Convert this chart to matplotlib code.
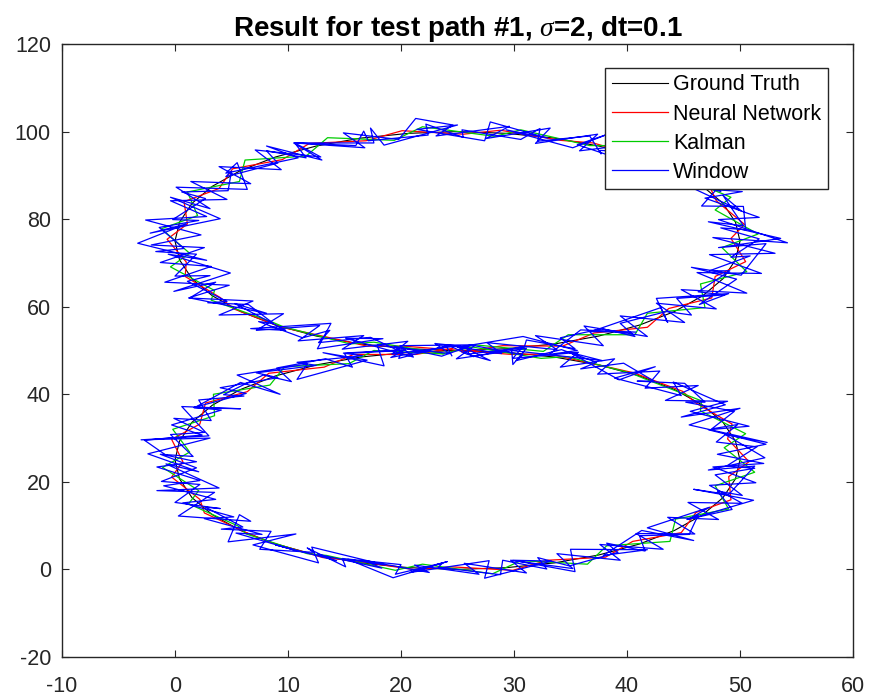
import matplotlib
matplotlib.use("Agg")
import matplotlib.pyplot as plt

plt.rcParams['font.family'] = ['Liberation Sans', 'DejaVu Sans']
plt.rcParams['mathtext.fontset'] = 'custom'
plt.rcParams['mathtext.it'] = 'Liberation Serif:italic'
plt.rcParams['axes.unicode_minus'] = False

title = r"Result for test path #1, $\mathit{\sigma}$=2, dt=0.1"
labels = ["Ground Truth", "Neural Network", "Kalman", "Window"]
colors = ["#000000", "#ff0000", "#00cc00", "#0000ff"]
x_ticks = [-10, 0, 10, 20, 30, 40, 50, 60]
y_ticks = [-20, 0, 20, 40, 60, 80, 100, 120]

# Ground truth (figure-eight)
gt_x = [25.0, 29.3, 33.6, 37.5, 41.1, 44.2, 46.7, 48.5, 49.6, 50.0, 49.6, 48.5, 46.7, 44.2, 41.1, 37.5, 33.6, 29.3,
        25.0, 20.7, 16.4, 12.5, 8.9, 5.8, 3.3, 1.5, 0.4, 0.0, 0.4, 1.5, 3.3, 5.8, 8.9, 12.5, 16.4, 20.7,
        25.0, 29.3, 33.6, 37.5, 41.1, 44.2, 46.7, 48.5, 49.6, 50.0, 49.6, 48.5, 46.7, 44.2, 41.1, 37.5, 33.6, 29.3,
        25.0, 20.7, 16.4, 12.5, 8.9, 5.8, 3.3, 1.5, 0.4, 0.0, 0.4, 1.5, 3.3, 5.8, 8.9, 12.5, 16.4, 20.7, 25.0]
gt_y = [50.0, 50.4, 51.5, 53.3, 55.8, 58.9, 62.5, 66.4, 70.7, 75.0, 79.3, 83.6, 87.5, 91.1, 94.2, 96.7, 98.5, 99.6,
        100.0, 99.6, 98.5, 96.7, 94.2, 91.1, 87.5, 83.6, 79.3, 75.0, 70.7, 66.4, 62.5, 58.9, 55.8, 53.3, 51.5, 50.4,
        50.0, 49.6, 48.5, 46.7, 44.2, 41.1, 37.5, 33.6, 29.3, 25.0, 20.7, 16.4, 12.5, 8.9, 5.8, 3.3, 1.5, 0.4,
        0.0, 0.4, 1.5, 3.3, 5.8, 8.9, 12.5, 16.4, 20.7, 25.0, 29.3, 33.6, 37.5, 41.1, 44.2, 46.7, 48.5, 49.6, 50.0]

# Neural network estimate
nn_x = [25.4, 29.0, 34.3, 37.1, 41.8, 43.7, 47.5, 47.8, 50.5, 49.2, 50.4, 47.9, 47.4, 43.6, 41.9, 37.0, 34.1, 28.8,
        25.5, 20.1, 16.9, 11.9, 9.5, 5.1, 3.9, 0.8, 1.1, -0.7, 1.0, 0.9, 4.0, 5.2, 9.6, 12.0, 17.0, 20.2,
        29.8, 33.1, 38.2, 40.6, 44.9, 46.1, 49.3, 48.9, 50.8, 49.0, 49.2, 46.1, 44.8, 40.5, 38.1, 33.0, 29.9,
        24.4, 21.3, 15.8, 13.1, 8.3, 6.4, 2.6, 2.2, -0.3, 0.7, -0.3, 2.2, 2.7, 6.4, 8.3, 13.2, 15.8, 21.3, 24.6]
nn_y = [49.6, 51.1, 51.0, 54.0, 55.3, 59.6, 62.0, 66.9, 70.3, 75.6, 78.8, 84.2, 87.0, 91.6, 93.8, 97.4, 98.0, 100.3,
        99.4, 100.2, 97.9, 97.3, 93.6, 91.5, 87.0, 84.0, 78.9, 75.4, 70.2, 66.9, 62.1, 59.5, 55.2, 53.9, 51.0, 51.0,
        49.1, 49.2, 46.3, 44.9, 40.7, 38.0, 33.2, 29.8, 24.6, 21.2, 15.9, 13.0, 8.4, 6.4, 2.8, 2.1, -0.2,
        0.6, -0.1, 2.0, 2.7, 6.3, 8.3, 12.9, 16.0, 21.1, 24.6, 29.7, 33.2, 38.0, 40.6, 44.8, 46.2, 49.1, 49.1, 50.5]

# Kalman estimate
kf_x = [26.5, 32.6, 34.8, 40.7, 41.8, 46.9, 46.5, 50.6, 48.4, 51.6, 47.8, 49.2, 44.3, 43.9, 38.4, 36.7, 30.6, 28.3,
        21.9, 19.4, 13.5, 11.6, 6.2, 5.7, 1.1, 2.0, -1.2, 1.3, -0.4, 3.5, 3.2, 8.5, 9.6, 15.5, 17.6, 23.7,
        26.3, 32.4, 34.7, 40.4, 41.6, 46.6, 46.5, 50.5, 48.6, 51.3, 47.8, 49.0, 44.3, 43.8, 38.2, 36.5, 30.6, 28.1,
        21.9, 19.5, 13.4, 11.7, 6.3, 5.6, 1.2, 2.1, -1.1, 1.3, -0.2, 3.5, 3.4, 8.4, 9.7, 15.4, 17.6, 23.8]
kf_y = [51.3, 49.8, 53.6, 53.6, 58.5, 59.8, 65.2, 68.0, 73.5, 76.6, 82.1, 85.0, 90.2, 91.8, 96.8, 96.8, 100.4, 98.9,
        101.1, 98.0, 98.6, 94.4, 93.5, 88.6, 86.2, 80.8, 77.8, 72.2, 69.1, 63.7, 61.5, 56.6, 55.4, 51.5, 51.9, 49.3,
        50.8, 48.2, 48.6, 44.8, 43.5, 38.5, 36.2, 31.0, 27.8, 22.2, 19.1, 13.8, 11.5, 6.4, 5.4, 1.2, 2.0, -1.0,
        1.2, -0.2, 3.2, 3.6, 8.1, 9.9, 15.0, 18.0, 23.3, 26.8, 32.0, 35.1, 40.0, 42.1, 46.3, 47.0, 50.0, 49.2]

# Window estimate (three passes around the figure-eight)
win_x = [24.1, 28.9, 27.6, 33.8, 31.9, 37.9, 36.2, 41.8, 39.4, 45.1, 42.6, 47.9, 44.8, 50.6, 46.2, 51.9, 47.3, 53.1,
         47.6, 54.2, 48.1, 51.7, 46.9, 50.2, 45.1, 47.4, 42.3, 44.9, 39.6, 41.2, 35.8, 37.4, 31.9, 33.2, 27.5, 29.6,
         23.1, 24.6, 21.3, 19.8, 14.9, 16.8, 10.6, 12.9, 7.1, 9.4, 3.9, 6.7, 1.4, 4.6, -0.4, 2.8, -2.6, 2.3,
         -2.1, 2.6, -1.3, 3.2, -0.9, 4.8, 1.2, 6.9, 3.9, 9.6, 7.2, 12.8, 10.9, 16.7, 14.8, 20.6, 19.2, 24.9,
         26.4, 30.8, 29.9, 35.7, 34.1, 38.9, 37.4, 42.9, 41.6, 46.3, 43.4, 48.9, 45.6, 50.8, 47.2, 52.3, 48.0, 52.1,
         47.6, 51.4, 47.3, 50.2, 45.4, 48.1, 43.6, 46.0, 40.8, 43.2, 37.6, 39.4, 33.8, 35.2, 29.7, 31.1, 25.6, 26.9,
         21.2, 22.5, 16.8, 18.3, 12.6, 14.3, 8.9, 10.6, 5.4, 7.7, 2.6, 5.2, 0.7, 3.6, -1.0, 2.2, -1.6, 1.9,
         -0.8, -2.7, 2.4, -0.3, 4.1, 1.7, 6.3, 4.0, 9.1, 7.2, 12.5, 10.8, 16.6, 14.9, 20.4, 19.1, 24.3, 25.8,
         27.9, 25.4, 30.8, 35.6, 33.1, 35.9, 40.8, 36.8, 43.0, 43.6, 42.6, 49.0, 46.4, 49.7, 45.7, 50.1, 52.3, 48.1,
         53.6, 47.2, 50.3, 48.5, 50.1, 45.8, 48.8, 43.8, 41.1, 44.9, 40.7, 35.6, 38.4, 35.2, 29.3, 33.0, 27.9, 27.4,
         21.4, 25.0, 18.5, 17.3, 17.6, 10.5, 13.0, 8.1, 10.9, 4.5, 5.5, 6.4, 0.1, 3.1, -0.4, 4.0, -2.2, 1.0,
         -3.3, 2.8, -0.6, 4.9, -0.1, 3.6, 1.3, 8.1, 5.3, 9.8, 6.7, 13.8, 12.6, 18.4, 15.1, 21.1, 19.9, 26.6,
         24.9, 31.1, 29.9, 29.8, 37.8, 34.9, 39.3, 42.5, 38.9, 44.8, 44.1, 48.7, 44.8, 50.0, 45.5, 52.4, 48.7, 52.2,
         47.2, 51.3, 49.0, 45.9, 51.2, 45.4, 47.3, 41.8, 45.9, 41.3, 37.9, 41.8, 35.0, 35.4, 29.9, 33.3, 27.4, 27.8,
         20.8, 24.1, 19.3, 15.3, 18.6, 12.1, 12.7, 6.9, 10.7, 4.7, 5.7, 6.7, 0.3, 3.5, -1.6, 3.9, -0.8, 2.1,
         -2.4, 3.1, -3.0, 3.0, 0.6, 5.8, 1.7, 5.8, 9.3, 5.5, 11.7, 10.8, 17.0, 13.1, 18.5, 17.9, 24.3, 23.0,
         25.9, 26.0, 30.9, 31.1, 35.4, 34.1, 37.8, 40.7, 39.4, 43.5, 45.7, 44.4, 48.6, 46.3, 49.1, 47.3, 50.9, 49.2,
         51.7, 48.3, 50.5, 50.3, 46.6, 48.1, 48.3, 44.2, 44.9, 41.8, 42.6, 37.6, 37.7, 36.7, 32.1, 32.3, 30.6, 25.4,
         25.5, 22.2, 22.4, 17.1, 16.7, 16.0, 10.6, 11.6, 8.1, 9.1, 4.5, 5.0, 4.7, 0.6, 2.7, -0.2, 2.1, -1.4,
         0.8, -1.7, 1.9, 0.0, 3.1, 1.1, 4.6, 2.9, 6.5, 8.7, 7.4, 11.3, 13.7, 12.7, 17.3, 20.0, 19.4, 23.6,
         26.3, 30.8, 30.2, 34.2, 37.3, 35.9, 39.7, 42.4, 40.9, 45.1, 46.9, 45.2, 49.5, 47.5, 49.8, 47.9, 51.5, 48.8,
         51.3, 47.8, 50.2, 48.0, 49.3, 45.3, 46.3, 45.5, 41.1, 41.6, 38.2, 39.2, 34.9, 32.1, 32.9, 29.0, 28.8, 23.3,
         23.7, 19.5, 20.0, 14.8, 15.1, 11.7, 12.3, 7.5, 8.5, 4.1, 6.0, 2.7, 4.0, 0.0, 2.2, -1.2, 1.9, -1.3,
         1.6, -0.4, 2.6, -0.1, 3.2, 2.1, 6.1, 4.3, 7.8, 10.3, 9.0, 13.3, 15.7, 15.0, 20.1, 19.8, 24.0, 24.5]
win_y = [51.2, 49.3, 51.8, 50.2, 53.4, 51.1, 55.6, 53.2, 57.9, 56.4, 60.8, 59.5, 63.9, 63.1, 67.8, 67.6, 71.9, 72.2,
         75.8, 74.6, 79.9, 80.4, 84.8, 86.3, 87.2, 90.6, 90.4, 94.1, 93.1, 97.3, 95.6, 99.4, 97.3, 100.8, 98.4, 101.2,
         99.0, 101.5, 103.0, 98.2, 99.7, 96.3, 97.4, 94.2, 95.8, 91.3, 92.0, 88.1, 88.6, 84.5, 84.2, 80.6, 79.8, 76.4,
         74.1, 73.5, 70.1, 69.2, 65.6, 64.9, 62.0, 61.3, 58.1, 58.4, 54.6, 55.7, 52.2, 53.4, 50.3, 52.1, 49.2, 51.0,
         48.6, 50.9, 48.2, 49.6, 46.2, 48.1, 44.6, 45.3, 41.4, 42.0, 38.6, 38.4, 36.1, 32.7, 31.9, 28.6, 26.3, 24.2,
         23.4, 19.8, 19.2, 15.1, 15.3, 11.4, 11.9, 8.1, 8.2, 4.6, 5.7, 2.1, 3.6, 0.2, 2.1, -0.8, 1.4, -1.1,
         1.0, -0.7, 2.0, 0.3, 3.5, 2.0, 5.6, 4.4, 8.3, 8.0, 11.6, 12.0, 15.2, 16.0, 19.1, 20.3, 23.4, 24.6,
         26.1, 29.5, 30.7, 33.0, 36.4, 37.0, 40.2, 41.5, 43.8, 44.9, 46.6, 47.3, 48.8, 49.4, 50.2, 48.4, 51.1, 49.2,
         47.7, 50.9, 53.2, 50.0, 49.1, 54.7, 54.2, 54.3, 59.8, 56.4, 61.9, 63.0, 60.5, 66.3, 69.0, 67.2, 74.4, 73.5,
         75.6, 79.4, 78.5, 85.4, 81.9, 87.1, 90.2, 87.6, 93.1, 93.8, 92.6, 97.0, 99.5, 96.3, 100.4, 98.5, 102.2, 97.9,
         100.5, 101.5, 96.9, 100.8, 97.4, 97.4, 93.5, 96.7, 94.0, 90.5, 92.9, 86.8, 87.3, 82.4, 85.0, 80.1, 76.8, 78.9,
         74.5, 70.6, 72.0, 67.7, 63.5, 65.6, 62.0, 58.5, 60.7, 54.6, 55.0, 56.2, 50.4, 52.7, 52.8, 48.5, 51.1, 51.3,
         48.1, 50.5, 46.8, 50.0, 47.7, 49.6, 43.3, 46.3, 43.7, 39.7, 42.8, 37.6, 34.8, 36.8, 33.0, 29.0, 30.8, 25.5,
         22.7, 23.6, 17.1, 18.3, 15.8, 11.4, 14.2, 9.5, 6.6, 8.9, 3.2, 4.5, 4.6, -0.5, 2.1, 1.9, -2.0, 2.0,
         -0.7, 1.8, -1.9, 2.3, 1.0, 5.1, 1.5, 5.6, 8.1, 6.3, 12.5, 11.0, 12.2, 17.6, 18.0, 18.6, 24.1, 22.3,
         26.4, 30.0, 29.6, 30.5, 37.2, 36.7, 36.9, 42.7, 40.0, 44.4, 46.9, 43.4, 47.8, 49.5, 46.5, 51.2, 49.3, 51.6,
         50.8, 49.2, 50.7, 52.4, 50.4, 52.9, 55.0, 53.2, 56.2, 58.9, 58.1, 61.9, 62.7, 63.4, 68.2, 68.2, 71.6, 71.3,
         75.5, 78.0, 77.6, 82.9, 83.0, 87.3, 86.3, 89.6, 92.6, 91.1, 95.1, 95.7, 94.9, 99.0, 97.8, 100.7, 98.2, 100.4,
         98.7, 101.7, 99.2, 97.9, 100.1, 96.8, 97.4, 94.0, 95.6, 92.8, 89.7, 91.0, 86.5, 86.2, 84.7, 79.9, 79.7, 78.1,
         73.3, 72.6, 72.0, 67.0, 67.1, 65.8, 61.2, 60.9, 60.5, 56.2, 56.6, 52.9, 54.6, 51.8, 53.0, 49.7, 51.0, 48.7,
         51.2, 49.0, 47.7, 50.2, 47.3, 45.8, 47.1, 43.0, 43.0, 42.5, 38.2, 38.2, 36.1, 32.1, 33.1, 29.1, 28.0, 23.6,
         23.1, 21.6, 16.9, 17.9, 13.7, 11.4, 12.4, 8.0, 7.7, 4.2, 6.0, 3.9, 0.8, 2.7, 0.1, 2.1, -1.2, 0.5,
         1.5, -1.1, 1.1, 2.5, 0.6, 4.9, 3.9, 4.6, 8.7, 9.2, 9.7, 14.2, 13.9, 15.3, 19.4, 20.1, 23.2, 26.3,
         25.8, 30.8, 31.3, 34.5, 34.0, 38.7, 39.6, 39.9, 44.4, 42.9, 46.0, 48.1, 46.2, 49.3, 50.0, 48.2, 51.0, 48.8]

fig = plt.figure(figsize=(8.7, 6.98), dpi=100)
ax = fig.add_axes([62 / 870, 41 / 698, 791 / 870, 613 / 698])

series = [(gt_x, gt_y), (nn_x, nn_y), (kf_x, kf_y), (win_x, win_y)]
lws = [0.8, 0.9, 0.9, 0.9]
for (xs, ys), lab, c, lw in zip(series, labels, colors, lws):
    ax.plot(xs, ys, color=c, lw=lw, label=lab)

ax.set_xlim(-10, 60)
ax.set_ylim(-20, 120)
ax.set_xticks(x_ticks)
ax.set_yticks(y_ticks)
ax.tick_params(direction='in', top=True, right=True, length=5, width=0.8,
               labelsize=15.5, colors='#262626')
ax.tick_params(axis='x', pad=14)
ax.tick_params(axis='y', pad=8)
for s in ax.spines.values():
    s.set_color('#262626')
    s.set_linewidth(1.0)

ax.set_title(title, fontsize=20, fontweight='bold', color='black', pad=6)

leg = ax.legend(loc='upper right', bbox_to_anchor=(0.968, 0.961), fontsize=15.5,
                frameon=True, fancybox=False, edgecolor='#262626', framealpha=1,
                handlelength=2.6, handletextpad=0.25, labelspacing=0.38,
                borderpad=0.3, borderaxespad=0)
leg.get_frame().set_linewidth(1.0)

fig.savefig("out.png", dpi=100)
